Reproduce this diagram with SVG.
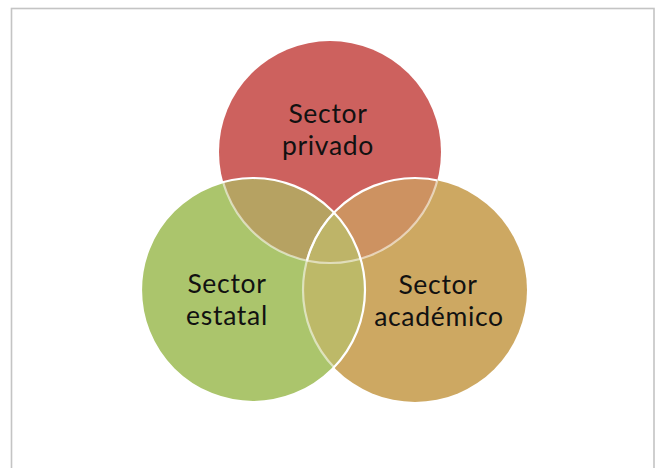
<svg xmlns="http://www.w3.org/2000/svg" width="660" height="468" viewBox="0 0 660 468">
<style>
.lbl{font-family:Lato,"Open Sans","Noto Sans",sans-serif;font-size:26.5px;letter-spacing:0.7px;fill:#111;text-anchor:middle}
.edge{fill:none;stroke:#fff;stroke-width:2.2}
</style>
<defs>
<clipPath id="cR"><circle cx="330" cy="152" r="111"/></clipPath>
<clipPath id="cG"><circle cx="253" cy="290" r="112"/></clipPath>
<clipPath id="cO"><circle cx="415" cy="290" r="112"/></clipPath>
<clipPath id="cGO"><circle cx="253" cy="290" r="112"/><circle cx="415" cy="290" r="112"/></clipPath>
</defs>
<rect x="0" y="0" width="660" height="468" fill="#fff"/>
<rect x="11.5" y="8.5" width="642.5" height="480" fill="none" stroke="#c4c4c4" stroke-width="1.6"/>
<g id="shapes">
<circle id="privado" cx="330" cy="152" r="111" fill="#CD615E"/>
<circle id="academico" cx="415" cy="290" r="112" fill="#CDA862"/>
<circle id="estatal" cx="253" cy="290" r="112" fill="#ABC56C"/>
<circle cx="415" cy="290" r="112" fill="#CD9261" clip-path="url(#cR)"/>
<circle cx="415" cy="290" r="112" fill="#BDB968" clip-path="url(#cG)"/>
<circle cx="253" cy="290" r="112" fill="#B6A262" clip-path="url(#cR)"/>
<g clip-path="url(#cR)"><circle cx="415" cy="290" r="112" fill="#BEB468" clip-path="url(#cG)"/></g>
</g>
<g id="connectors">
<circle class="edge" cx="330" cy="152" r="111" stroke-opacity="0.55" clip-path="url(#cGO)"/>
<circle class="edge" cx="415" cy="290" r="112" stroke-opacity="0.55" clip-path="url(#cG)"/>
<circle class="edge" cx="415" cy="290" r="112" clip-path="url(#cR)"/>
<circle class="edge" cx="253" cy="290" r="112"/>
</g>
<g id="labels">
<text class="lbl" x="328" y="123">Sector<tspan x="328" dy="32">privado</tspan></text>
<text class="lbl" x="227" y="293">Sector<tspan x="227" dy="32">estatal</tspan></text>
<text class="lbl" x="438" y="294">Sector<tspan x="439" dy="32">académico</tspan></text>
</g>
</svg>
